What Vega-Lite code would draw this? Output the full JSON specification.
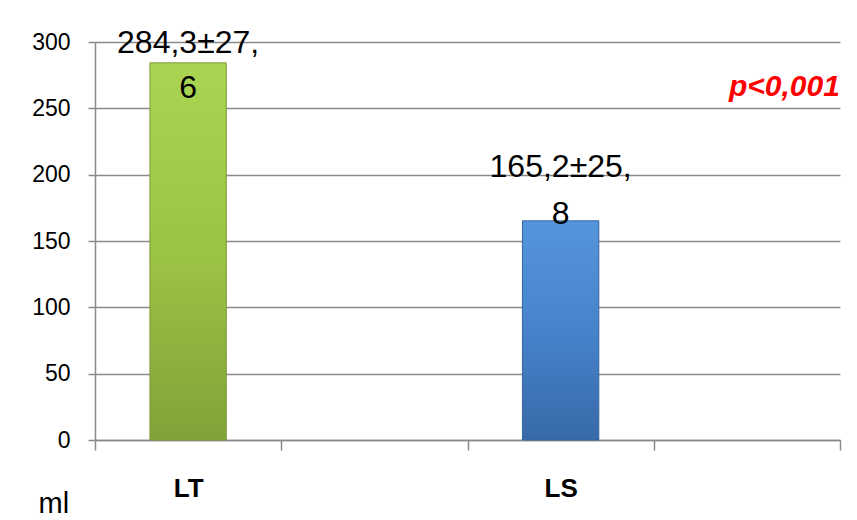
{
  "$schema": "https://vega.github.io/schema/vega-lite/v6.json",
  "width": 745,
  "height": 398,
  "autosize": "none",
  "padding": {"left": 95, "top": 42, "right": 17, "bottom": 80},
  "background": "white",
  "config": {"view": {"stroke": null}, "font": "Liberation Sans"},
  "datasets": {
    "bars": [
      {"group": "LT", "value": 284.3, "label": "284,3±27,\n6"},
      {"group": "LS", "value": 165.2, "label": "165,2±25,\n8"}
    ],
    "note": [{"note": "p<0,001", "group": "g4", "value": 266}]
  },
  "layer": [
    {
      "data": {"name": "bars"},
      "encoding": {
        "x": {
          "field": "group", "type": "nominal",
          "scale": {"domain": ["LT", "g2", "LS", "g4"], "paddingInner": 0, "paddingOuter": 0},
          "axis": {
            "title": null, "labelAngle": 0, "grid": false,
            "labelExpr": "datum.value == 'LT' || datum.value == 'LS' ? datum.value : ''",
            "tickBand": "extent", "tickSize": 10, "tickColor": "#8a8a8a", "tickWidth": 1.5,
            "domainColor": "#8a8a8a", "domainWidth": 1.5,
            "labelFontSize": 26, "labelFontWeight": "bold", "labelColor": "#000000", "labelPadding": 25
          }
        },
        "y": {
          "field": "value", "type": "quantitative",
          "scale": {"domain": [0, 300], "nice": false},
          "axis": {
            "values": [0, 50, 100, 150, 200, 250, 300],
            "grid": true, "gridColor": "#8a8a8a", "gridWidth": 1.5,
            "domainColor": "#8a8a8a", "domainWidth": 1.5,
            "tickColor": "#8a8a8a", "tickWidth": 1.5, "tickSize": 7,
            "labelFontSize": 23, "labelColor": "#000000", "labelPadding": 18,
            "title": "ml", "titleAngle": 0, "titleAlign": "left", "titleBaseline": "alphabetic",
            "titleX": -57, "titleY": 470, "titleFontSize": 29, "titleFontWeight": "normal", "titleColor": "#000000"
          }
        }
      },
      "layer": [
        {
          "transform": [{"filter": "datum.group == 'LT'"}],
          "mark": {
            "type": "bar", "width": {"band": 0.41},
            "color": {"gradient": "linear", "x1": 0, "y1": 0, "x2": 0, "y2": 1,
              "stops": [{"offset": 0, "color": "#aad451"}, {"offset": 0.5, "color": "#9cc444"}, {"offset": 1, "color": "#80a33a"}]},
            "stroke": "#7c9a38", "strokeWidth": 1
          }
        },
        {
          "transform": [{"filter": "datum.group == 'LS'"}],
          "mark": {
            "type": "bar", "width": {"band": 0.41},
            "color": {"gradient": "linear", "x1": 0, "y1": 0, "x2": 0, "y2": 1,
              "stops": [{"offset": 0, "color": "#5595de"}, {"offset": 0.5, "color": "#4683cc"}, {"offset": 1, "color": "#386aa8"}]},
            "stroke": "#35649e", "strokeWidth": 1
          }
        },
        {
          "transform": [{"filter": "datum.group == 'LT'"}],
          "mark": {"type": "text", "fontSize": 32, "lineBreak": "\n", "lineHeight": 45, "baseline": "middle", "align": "center", "dy": -20, "color": "#000000"},
          "encoding": {"text": {"field": "label"}}
        },
        {
          "transform": [{"filter": "datum.group == 'LS'"}],
          "mark": {"type": "text", "fontSize": 32, "lineBreak": "\n", "lineHeight": 47, "baseline": "middle", "align": "center", "dy": -54, "color": "#000000"},
          "encoding": {"text": {"field": "label"}}
        }
      ]
    },
    {
      "data": {"name": "note"},
      "mark": {"type": "text", "fontSize": 30, "fontWeight": "bold", "fontStyle": "italic", "color": "#ff0000", "align": "right", "baseline": "middle", "dx": 93},
      "encoding": {
        "x": {"field": "group", "type": "nominal"},
        "y": {"field": "value", "type": "quantitative"},
        "text": {"field": "note"}
      }
    }
  ]
}
